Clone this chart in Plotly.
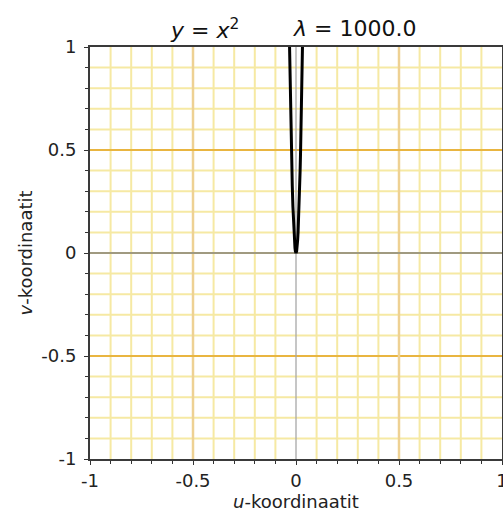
import plotly.graph_objects as go

# Image of the line y = x^2 in the (u, v) plane, scale factor lambda
lam_label = "1000.0"
u_curve = [-0.033, -0.0316, -0.03, -0.028, -0.025, -0.022, -0.02, -0.018, -0.015,
           -0.012, -0.01, -0.008, -0.005, -0.003, 0.0,
           0.003, 0.005, 0.008, 0.01, 0.012, 0.015, 0.018, 0.02, 0.022,
           0.025, 0.028, 0.03, 0.0316, 0.033]
v_curve = [1.089, 1.0, 0.9, 0.784, 0.625, 0.484, 0.4, 0.324, 0.225,
           0.144, 0.1, 0.064, 0.025, 0.009, 0.0,
           0.009, 0.025, 0.064, 0.1, 0.144, 0.225, 0.324, 0.4, 0.484,
           0.625, 0.784, 0.9, 1.0, 1.089]

tick_vals = [-1, -0.5, 0, 0.5, 1]
tick_text = ["-1", "-0.5", "0", "0.5", "1"]
minor_grid = [-0.9, -0.8, -0.7, -0.6, -0.4, -0.3, -0.2, -0.1,
              0.1, 0.2, 0.3, 0.4, 0.6, 0.7, 0.8, 0.9]
half_lines = [-0.5, 0.5]

MINOR = "#f6e9a3"
V_HALF = "#eed193"
H_HALF = "#e9b540"
FONT = "DejaVu Sans"

fig = go.Figure()

def vline(x, color, width):
    fig.add_trace(go.Scatter(x=[x, x], y=[-1, 1], mode="lines",
                             line=dict(color=color, width=width),
                             hoverinfo="skip", showlegend=False))

def hline(y, color, width):
    fig.add_trace(go.Scatter(x=[-1, 1], y=[y, y], mode="lines",
                             line=dict(color=color, width=width),
                             hoverinfo="skip", showlegend=False))

for g in minor_grid:
    vline(g, MINOR, 2)
    hline(g, MINOR, 2)
for g in half_lines:
    vline(g, V_HALF, 2.5)
    hline(g, H_HALF, 1.8)
hline(0, "#a09a80", 2.2)
vline(0, "#a8a8a8", 1.3)

fig.add_trace(go.Scatter(x=u_curve, y=v_curve, mode="lines",
                         line=dict(color="black", width=3),
                         hoverinfo="skip", showlegend=False))

axis_common = dict(
    range=[-1, 1], tickmode="array", tickvals=tick_vals, ticktext=tick_text,
    showgrid=False, zeroline=False, showline=True, linecolor="#3a3a3a",
    linewidth=2, mirror=True, ticks="outside", ticklen=4, tickwidth=1,
    tickcolor="#333", ticklabeloverflow="allow", automargin=False,
    minor=dict(tickvals=minor_grid, ticks="outside", ticklen=3, tickwidth=1,
               tickcolor="#333", showgrid=False),
    tickfont=dict(family=FONT, size=18, color="#222"),
    fixedrange=True,
)

fig.update_layout(
    width=503, height=514,
    margin=dict(l=90, r=1, t=47, b=55),
    plot_bgcolor="white", paper_bgcolor="white",
    xaxis=dict(**axis_common, ticklabelstandoff=0,
               title=dict(text="<i>u</i>-koordinaatit", standoff=4,
                          font=dict(family=FONT, size=18, color="#222"))),
    yaxis=dict(**axis_common, ticklabelstandoff=4,
               title=dict(text="<i>v</i>-koordinaatit", standoff=4,
                          font=dict(family=FONT, size=18, color="#222"))),
    annotations=[
        dict(text="<i>y</i> = <i>x</i><sup>2</sup>", xref="paper", yref="paper",
             x=0.279, y=1.044, xanchor="center", yanchor="middle",
             showarrow=False, font=dict(family=FONT, size=22, color="#111")),
        dict(text="<i>λ</i> = " + lam_label, xref="paper", yref="paper",
             x=0.643, y=1.044, xanchor="center", yanchor="middle",
             showarrow=False, font=dict(family=FONT, size=22, color="#111")),
    ],
)

fig.write_html("out.html")
